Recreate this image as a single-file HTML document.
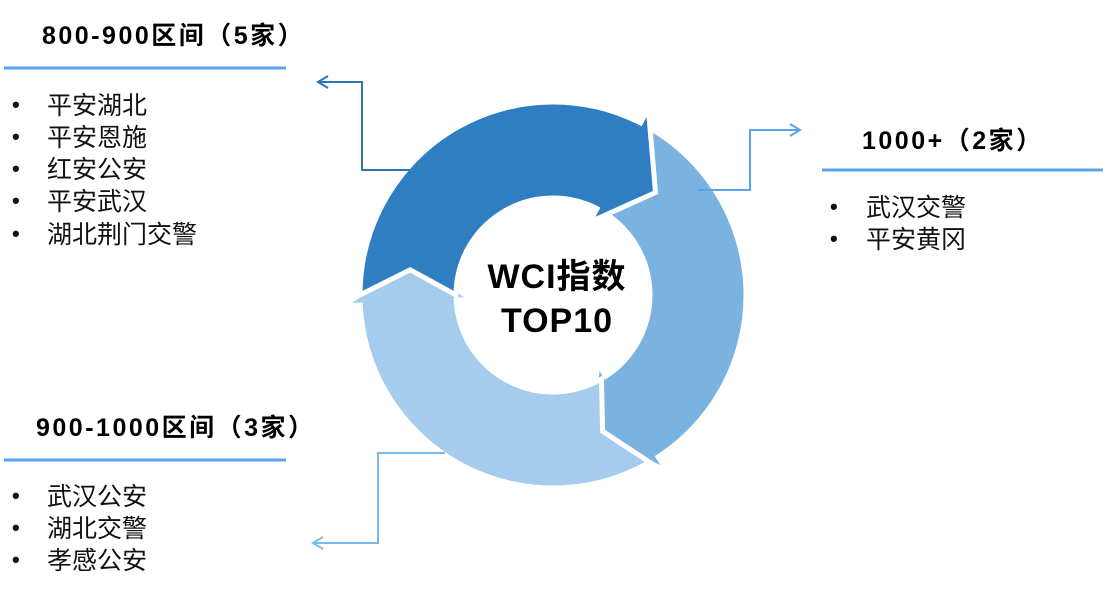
<!DOCTYPE html>
<html><head><meta charset="utf-8"><style>
html,body{margin:0;padding:0;background:#fff;width:1114px;height:589px;overflow:hidden}
svg{display:block}
text{font-family:"Liberation Sans","Noto Sans CJK SC",sans-serif}
.t{font-size:25px;font-weight:bold;fill:#000;letter-spacing:2.5px}
.i{font-size:25px;fill:#111}
.b{font-size:22px;fill:#111;font-weight:bold}
</style></head><body>
<svg width="1114" height="589" viewBox="0 0 1114 589">
<defs>
<path id="seg" d="M193,0 A193,193 0 0 1 -87.6,172 L-95.3,187.1 L-102.5,102.5 L-37.2,73.1 L-44,86.4 A97,97 0 0 0 97,0 L142.8,25.2 Z"/>
</defs>
<g transform="translate(553,295)" stroke="#fff" stroke-width="5" stroke-linejoin="miter">
<use href="#seg" transform="rotate(300)" fill="#7ab3e0"/>
<use href="#seg" transform="rotate(60)" fill="#a6cced"/>
<use href="#seg" transform="rotate(180)" fill="#2e7ec1"/>
</g>
<text x="557" y="288" text-anchor="middle" font-size="34" font-weight="bold" fill="#000" letter-spacing="1">WCI指数</text>
<text x="557" y="332" text-anchor="middle" font-size="34" font-weight="bold" fill="#000" letter-spacing="1">TOP10</text>

<polyline points="410,170 362,170 362,82 318,82" fill="none" stroke="#2e75b6" stroke-width="2"/>
<polyline points="328,76 318,82 328,88" fill="none" stroke="#2e75b6" stroke-width="2"/>
<polyline points="698,190 750,190 750,130 800,130" fill="none" stroke="#5ba3e8" stroke-width="2"/>
<polyline points="790,124 800,130 790,136" fill="none" stroke="#5ba3e8" stroke-width="2"/>
<polyline points="445,453 378,453 378,543 313,543" fill="none" stroke="#7ab8ee" stroke-width="2"/>
<polyline points="323,537 313,543 323,549" fill="none" stroke="#7ab8ee" stroke-width="2"/>

<text class="t" x="42" y="44">800-900区间（5家）</text>
<line x1="4" y1="68" x2="286" y2="68" stroke="#5aa5e8" stroke-width="3"/>
<text class="b" x="12" y="112">•</text><text class="i" x="47" y="114">平安湖北</text>
<text class="b" x="12" y="144">•</text><text class="i" x="47" y="146">平安恩施</text>
<text class="b" x="12" y="176">•</text><text class="i" x="47" y="178">红安公安</text>
<text class="b" x="12" y="208">•</text><text class="i" x="47" y="210">平安武汉</text>
<text class="b" x="12" y="241">•</text><text class="i" x="47" y="243">湖北荆门交警</text>

<text class="t" x="862" y="149">1000+（2家）</text>
<line x1="822" y1="170" x2="1103" y2="170" stroke="#5aa5e8" stroke-width="3"/>
<text class="b" x="830" y="214">•</text><text class="i" x="866" y="216">武汉交警</text>
<text class="b" x="830" y="246">•</text><text class="i" x="866" y="248">平安黄冈</text>

<text class="t" x="36" y="436">900-1000区间（3家）</text>
<line x1="4" y1="460" x2="286" y2="460" stroke="#5aa5e8" stroke-width="3"/>
<text class="b" x="12" y="503">•</text><text class="i" x="47" y="505">武汉公安</text>
<text class="b" x="12" y="535">•</text><text class="i" x="47" y="537">湖北交警</text>
<text class="b" x="12" y="567">•</text><text class="i" x="47" y="569">孝感公安</text>
</svg>
</body></html>
